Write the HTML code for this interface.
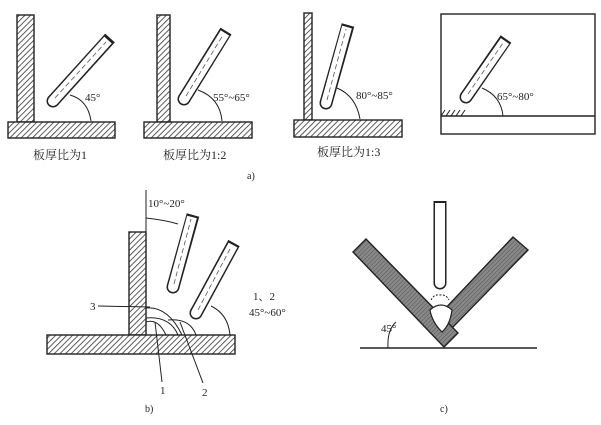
<!DOCTYPE html>
<html><head><meta charset="utf-8"><style>
html,body{margin:0;padding:0;background:#fff;}
svg{display:block;}
text{font-family:"Liberation Serif","Noto Serif CJK SC",serif;fill:#222;}
</style></head><body>
<svg width="601" height="425" viewBox="0 0 601 425" xmlns="http://www.w3.org/2000/svg">
<defs>
<pattern id="h" width="4" height="4" patternUnits="userSpaceOnUse" patternTransform="rotate(45)">
<rect width="4" height="4" fill="#fff"/><line x1="0" y1="0" x2="0" y2="4" stroke="#333" stroke-width="1.6"/>
</pattern>
<pattern id="g" width="3" height="3" patternUnits="userSpaceOnUse" patternTransform="rotate(-45)">
<rect width="3" height="3" fill="#888"/><line x1="0" y1="0" x2="3" y2="0" stroke="#555" stroke-width="1"/>
</pattern>
</defs>
<g stroke="#222" stroke-width="1.4" fill="none">
<rect x="17" y="15" width="17" height="107" fill="url(#h)"/>
<rect x="8" y="122" width="107" height="16" fill="url(#h)"/>
<rect x="157" y="15" width="13" height="107" fill="url(#h)"/>
<rect x="144" y="122" width="108" height="16" fill="url(#h)"/>
<rect x="304" y="13" width="8" height="107" fill="url(#h)"/>
<rect x="294" y="120" width="108" height="17" fill="url(#h)"/>
<rect x="441" y="14" width="154" height="120"/>
<line x1="441" y1="116" x2="595" y2="116"/>
<line x1="146" y1="190" x2="146" y2="232" stroke-width="1"/>
<rect x="129" y="232" width="17" height="103" fill="url(#h)"/>
<rect x="47" y="335" width="188" height="19" fill="url(#h)"/>
<polygon points="513,237 528,250 452,328 440,314" fill="url(#g)"/>
<polygon points="353,252 366,239 458,333 444,347" fill="url(#g)"/>
<line x1="360" y1="348" x2="537" y2="348"/>
</g>
<g stroke="#222" stroke-width="1" fill="none">
<path d="M441,116 l4,-6 M446,116 l4,-6 M451,116 l4,-6 M456,116 l4,-6 M461,116 l4,-6"/>
<path d="M70,95 Q88,100 91,121"/>
<path d="M198,90 Q220,98 222,121"/>
<path d="M337,88 Q356,96 360,119"/>
<path d="M482,88 Q501,96 503,116"/>
<path d="M146,218 Q165,220 178,224"/>
<path d="M211,306 Q228,314 230,335"/>
<path d="M396,322 Q387,330 388,348"/>
<path d="M146,308 Q168,306 182,335"/>
<path d="M146,318 Q170,316 178,335"/>
<path d="M146,322 Q158,318 166,335"/>
<path d="M168,320 Q190,318 196,335"/>
<line x1="98" y1="306" x2="150" y2="307"/>
<line x1="155" y1="322" x2="162" y2="382"/>
<line x1="180" y1="322" x2="203" y2="383"/>
</g>
<g fill="none">
<g stroke="#222" stroke-width="13" stroke-linecap="butt">
<line x1="53" y1="101" x2="110" y2="38"/>
<line x1="184" y1="99" x2="226" y2="31"/>
<line x1="326" y1="103" x2="348" y2="25"/>
<line x1="466" y1="97" x2="506" y2="39"/>
<line x1="173" y1="287" x2="193" y2="215"/>
<line x1="196" y1="313" x2="234" y2="243"/>
<line x1="440" y1="283" x2="440" y2="201"/>
</g>
<g fill="#222">
<circle cx="53" cy="101" r="6.5"/><circle cx="184" cy="99" r="6.5"/><circle cx="326" cy="103" r="6.5"/><circle cx="466" cy="97" r="6.5"/><circle cx="173" cy="287" r="6.5"/><circle cx="196" cy="313" r="6.5"/><circle cx="440" cy="283" r="6.5"/>
</g>
<g stroke="#fff" stroke-width="10" stroke-linecap="butt">
<line x1="53" y1="101" x2="108" y2="40"/>
<line x1="184" y1="99" x2="225" y2="33"/>
<line x1="326" y1="103" x2="347" y2="27"/>
<line x1="466" y1="97" x2="505" y2="41"/>
<line x1="173" y1="287" x2="192" y2="217"/>
<line x1="196" y1="313" x2="233" y2="245"/>
<line x1="440" y1="283" x2="440" y2="203"/>
</g>
<g fill="#fff">
<circle cx="53" cy="101" r="5"/><circle cx="184" cy="99" r="5"/><circle cx="326" cy="103" r="5"/><circle cx="466" cy="97" r="5"/><circle cx="173" cy="287" r="5"/><circle cx="196" cy="313" r="5"/><circle cx="440" cy="283" r="5"/>
</g>
<g stroke="#555" stroke-width="0.8" stroke-dasharray="5,3">
<line x1="55" y1="98" x2="106" y2="42"/>
<line x1="186" y1="96" x2="223" y2="35"/>
<line x1="327" y1="100" x2="346" y2="29"/>
<line x1="468" y1="94" x2="503" y2="43"/>
<line x1="174" y1="284" x2="191" y2="219"/>
<line x1="198" y1="310" x2="231" y2="247"/>
</g>
</g>
<path d="M430,310 Q441,300 452,310 Q450,325 442,332 Q432,322 430,310Z" fill="#fff" stroke="#222" stroke-width="1.2"/>
<path d="M431,300 q3,-6 9,-5 q6,-1 9,5" fill="none" stroke="#222" stroke-width="1" stroke-dasharray="2,1.5"/>
<g font-size="11">
<text x="85" y="101">45°</text>
<text x="213" y="101">55°~65°</text>
<text x="356" y="99">80°~85°</text>
<text x="497" y="100">65°~80°</text>
<text x="33" y="159" font-size="12">板厚比为1</text>
<text x="163" y="159" font-size="12">板厚比为1:2</text>
<text x="317" y="156" font-size="12">板厚比为1:3</text>
<text x="247" y="179" font-size="10">a)</text>
<text x="148" y="207">10°~20°</text>
<text x="253" y="300">1、2</text>
<text x="249" y="316">45°~60°</text>
<text x="90" y="310">3</text>
<text x="160" y="394">1</text>
<text x="202" y="396">2</text>
<text x="145" y="412" font-size="10">b)</text>
<text x="381" y="332">45°</text>
<text x="440" y="412" font-size="10">c)</text>
</g>
</svg>
</body></html>
